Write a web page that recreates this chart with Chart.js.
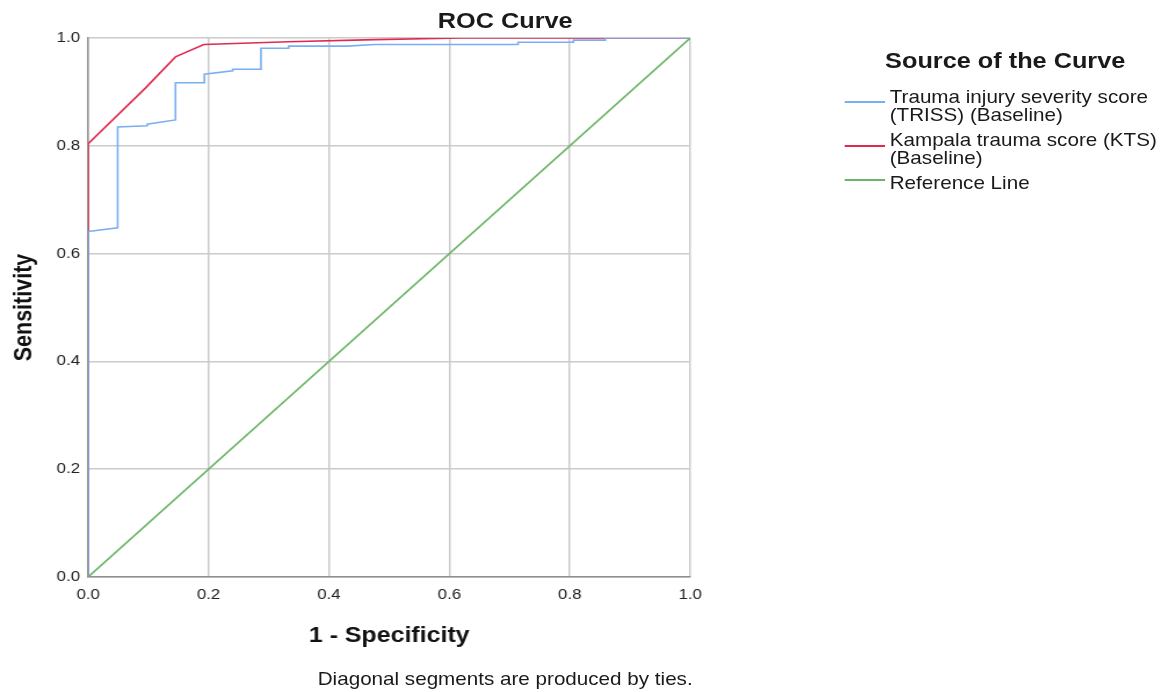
<!DOCTYPE html>
<html>
<head>
<meta charset="utf-8">
<script src="https://cdn.jsdelivr.net/npm/chart.js@4"></script>
<style>
  body { margin: 0; background: #fff; font-family: "Liberation Sans", Arial, sans-serif; overflow: hidden; }
  /* the source picture is stretched sideways, so the whole page is too */
  #wrap { position: relative; width: 1011px; height: 692px; transform: scaleX(1.16); transform-origin: 0 0; color: #1a1a1a; }
  #wrap div { position: absolute; white-space: nowrap; line-height: 1; }
  #title { left: 0; width: 871px; top: 9.5px; text-align: center; font-weight: bold; font-size: 21.8px; }
  #note { left: 0; width: 871px; top: 670.5px; text-align: center; font-size: 17.8px; }
  .lhead { left: 763px; top: 50px; font-weight: bold; font-size: 21.8px; }
  .ltxt { left: 767px; font-size: 17.8px; line-height: 18px !important; }
  .lline { left: 728px; width: 34.5px; height: 0; border-top: 2px solid; }
</style>
</head>
<body>
<div id="wrap">
  <canvas id="roc" width="1011" height="692"></canvas>
  <div id="title">ROC Curve</div>
  <div class="lhead">Source of the Curve</div>
  <div class="lline" style="border-color:#79aef2; top:101px"></div>
  <div class="ltxt" style="top:88px">Trauma injury severity score<br>(TRISS) (Baseline)</div>
  <div class="lline" style="border-color:#e2294f; top:145px"></div>
  <div class="ltxt" style="top:130.5px">Kampala trauma score (KTS)<br>(Baseline)</div>
  <div class="lline" style="border-color:#6cb567; top:178.5px"></div>
  <div class="ltxt" style="top:173.5px">Reference Line</div>
  <div id="note">Diagonal segments are produced by ties.</div>
</div>
<script>
// ROC points: 1 - specificity and sensitivity
const triss_fpr = [0, 0, 0.049, 0.049, 0.098, 0.098, 0.145, 0.145, 0.193, 0.193, 0.240, 0.240, 0.287, 0.287, 0.333, 0.333, 0.43, 0.476, 0.714, 0.714, 0.806, 0.806, 0.859, 0.859, 1];
const triss_tpr = [0, 0.641, 0.648, 0.835, 0.837, 0.840, 0.848, 0.917, 0.917, 0.933, 0.939, 0.942, 0.942, 0.981, 0.981, 0.985, 0.985, 0.988, 0.988, 0.992, 0.992, 0.996, 0.996, 1, 1];
const kts_fpr = [0, 0, 0.095, 0.145, 0.192, 0.333, 0.476, 0.619, 1];
const kts_tpr = [0, 0.804, 0.907, 0.965, 0.988, 0.993, 0.997, 1, 1];
const ref_x = [0, 1];
const ref_y = [0, 1];
const tickValues = [0, 0.2, 0.4, 0.6, 0.8, 1.0];

function pts(xs, ys) {
  return xs.map((x, i) => ({ x: x, y: ys[i] }));
}

const ctx = document.getElementById('roc');

new Chart(ctx, {
  type: 'scatter',
  data: {
    datasets: [
      { label: 'Reference Line', data: pts(ref_x, ref_y), borderColor: '#6cb567' },
      { label: 'Trauma injury severity score (TRISS) (Baseline)', data: pts(triss_fpr, triss_tpr), borderColor: '#79aef2' },
      { label: 'Kampala trauma score (KTS) (Baseline)', data: pts(kts_fpr, kts_tpr), borderColor: '#e2294f' }
    ]
  },
  options: {
    responsive: false,
    animation: false,
    devicePixelRatio: 1,
    datasets: { scatter: { showLine: true, pointRadius: 0, borderWidth: 1.6, tension: 0 } },
    layout: { padding: { top: 38, right: 416, left: 0, bottom: 0 } },
    plugins: { legend: { display: false }, tooltip: { enabled: false } },
    scales: {
      x: {
        type: 'linear', min: 0, max: 1,
        afterBuildTicks: s => { s.ticks = tickValues.map(v => ({ value: v })); },
        afterFit: s => { s.height = 115; },
        ticks: { callback: v => v.toFixed(1), padding: 9, color: '#222', font: { family: 'Liberation Sans', size: 14.5 } },
        grid: { color: '#cbcbcb', lineWidth: 1.5, drawTicks: false },
        border: { color: '#8f8f8f', width: 1.5 },
        title: { display: true, text: '1 - Specificity', color: '#111', padding: { top: 0, bottom: 43 }, font: { family: 'Liberation Sans', size: 21.5, weight: 'bold' } }
      },
      y: {
        type: 'linear', min: 0, max: 1,
        afterBuildTicks: s => { s.ticks = tickValues.map(v => ({ value: v })); },
        afterFit: s => { s.width = 76; },
        ticks: { callback: v => v.toFixed(1), padding: 7, color: '#222', font: { family: 'Liberation Sans', size: 14.5 } },
        grid: { color: '#cbcbcb', lineWidth: 1.5, drawTicks: false },
        border: { color: '#8f8f8f', width: 1.5 },
        title: { display: true, text: 'Sensitivity', color: '#111', padding: { top: 8, bottom: 0 }, font: { family: 'Liberation Sans', size: 21.5, weight: 'bold' } }
      }
    }
  }
});
</script>
</body>
</html>
